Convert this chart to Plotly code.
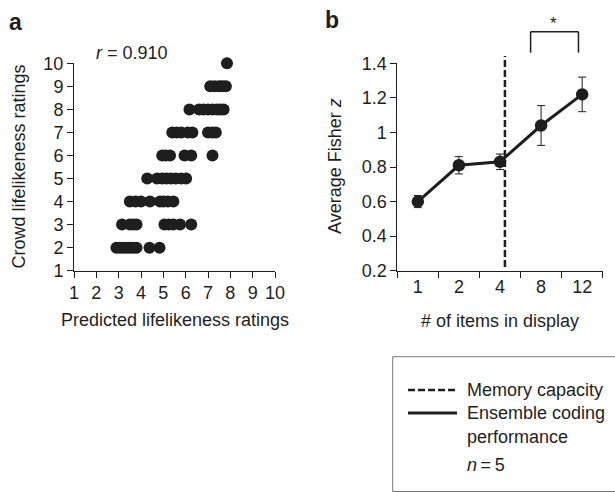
import plotly.graph_objects as go

# ---------------- data ----------------
# Panel a: predicted vs crowd lifelikeness ratings (one list per crowd rating row)
crowd_levels = [2, 3, 4, 5, 6, 7, 8, 9, 10]
predicted_by_level = [
    [2.9, 3.05, 3.2, 3.35, 3.5, 3.65, 3.8, 4.38, 4.83],
    [3.15, 3.5, 3.65, 3.8, 5.05, 5.25, 5.45, 5.75, 6.25],
    [3.5, 3.75, 4.0, 4.4, 4.85, 5.0, 5.2, 5.45],
    [4.28, 4.72, 4.95, 5.15, 5.35, 5.55, 5.8, 6.02],
    [4.95, 5.1, 5.3, 5.95, 6.25, 7.2],
    [5.4, 5.6, 5.8, 6.1, 6.3, 7.0, 7.2, 7.35],
    [6.17, 6.6, 6.8, 7.0, 7.2, 7.4, 7.55, 7.7],
    [7.1, 7.3, 7.5, 7.65, 7.8],
    [7.85],
]
predicted = [x for row in predicted_by_level for x in row]
crowd = [lvl for lvl, row in zip(crowd_levels, predicted_by_level) for _ in row]
r_text = "<i>r</i> = 0.910"

# Panel b: ensemble coding performance
items = ["1", "2", "4", "8", "12"]
fisher_z = [0.60, 0.81, 0.83, 1.04, 1.22]
fisher_err = [0.035, 0.05, 0.045, 0.115, 0.10]
memory_capacity_pos = 2.12  # category index position of the capacity line
bracket_from, bracket_to = 2.745, 3.91  # category index span of the * bracket

W, H = 615, 492
INK = "#1e1e1e"
FONT = "Liberation Sans, Arial, Helvetica, sans-serif"
FS = 18

# panel geometry (pixels)
A_L, A_R = 74, 275
B_L, B_R = 397.3, 602.7
TOP, BOT = 63.3, 270.7


def px(x):
    return x / W


def py(y):
    return 1 - y / H


def cat_px(i):
    # pixel position of a category index on panel b's x axis
    return B_L + (i + 0.5) * (B_R - B_L) / len(items)


fig = go.Figure()

fig.add_trace(go.Scatter(
    x=predicted, y=crowd, mode="markers",
    marker=dict(size=12, color=INK, line=dict(width=0)),
    xaxis="x", yaxis="y", cliponaxis=False, showlegend=False,
))

fig.add_trace(go.Scatter(
    x=items, y=fisher_z, mode="lines+markers",
    line=dict(color=INK, width=3),
    marker=dict(size=12.5, color=INK),
    error_y=dict(type="data", array=fisher_err, visible=True,
                 color=INK, thickness=1, width=4),
    xaxis="x2", yaxis="y2", cliponaxis=False, showlegend=False,
))

axis_common = dict(
    showline=True, linecolor=INK, linewidth=1, showgrid=False, zeroline=False,
    ticks="outside", ticklen=6, tickwidth=1, tickcolor=INK,
    tickfont=dict(family=FONT, size=FS, color=INK), automargin=False,
)

ydom = [py(BOT), py(TOP)]

fig.update_layout(
    width=W, height=H,
    margin=dict(l=0, r=0, t=0, b=0, autoexpand=False),
    paper_bgcolor="white", plot_bgcolor="white",
    font=dict(family=FONT, size=FS, color=INK),
    xaxis=dict(domain=[px(A_L), px(A_R)], range=[1, 10], tickmode="linear",
               tick0=1, dtick=1, anchor="y", **axis_common),
    yaxis=dict(domain=ydom, range=[1, 10], tickmode="linear",
               tick0=1, dtick=1, anchor="x", **axis_common),
    xaxis2=dict(domain=[px(B_L), px(B_R)], type="category",
                range=[-0.5, 4.5], tickson="boundaries", anchor="y2",
                **axis_common),
    yaxis2=dict(domain=ydom, range=[0.2, 1.4], tickmode="linear",
                tick0=0.2, dtick=0.2, anchor="x2", **axis_common),
)

shapes = []
# memory capacity line (extends above the plot area, so drawn in paper units)
xm = cat_px(memory_capacity_pos)
shapes.append(dict(type="line", xref="paper", yref="paper",
                   x0=px(xm), x1=px(xm), y0=py(267), y1=py(56),
                   line=dict(color=INK, width=2.5, dash="7px,3px")))
# significance bracket
bl, br = cat_px(bracket_from), cat_px(bracket_to)
btop, bbot = 31.7, 52.7
for (x0, y0, x1, y1) in [(bl, bbot, bl, btop), (bl, btop, br, btop), (br, btop, br, bbot)]:
    shapes.append(dict(type="line", xref="paper", yref="paper",
                       x0=px(x0), y0=py(y0), x1=px(x1), y1=py(y1),
                       line=dict(color=INK, width=1.5)))
# legend box
shapes.append(dict(type="rect", xref="paper", yref="paper",
                   x0=px(392.7), x1=px(630), y0=py(491.5), y1=py(356.7),
                   line=dict(color="#777777", width=1), fillcolor="rgba(0,0,0,0)"))
shapes.append(dict(type="line", xref="paper", yref="paper",
                   x0=px(408), x1=px(457), y0=py(390), y1=py(390),
                   line=dict(color=INK, width=2.5, dash="7px,3px")))
shapes.append(dict(type="line", xref="paper", yref="paper",
                   x0=px(408), x1=px(457), y0=py(413), y1=py(413),
                   line=dict(color=INK, width=3)))
fig.update_layout(shapes=shapes)


def ann(text, x, y, size=FS, xanchor="center", yanchor="middle", angle=0, **kw):
    return dict(text=text, x=px(x), y=py(y), xref="paper", yref="paper",
                showarrow=False, xanchor=xanchor, yanchor=yanchor, textangle=angle,
                font=dict(family=FONT, size=size, color=INK), **kw)


annotations = [
    ann("<b>a</b>", 15.5, 22, size=23),
    ann("<b>b</b>", 331.5, 20, size=23),
    ann(r_text, 132, 53),
    ann("Crowd lifelikeness ratings", 18.5, 167, angle=-90),
    ann("Predicted lifelikeness ratings", 174.5, 320),
    ann("Average Fisher <i>z</i>", 335, 166, angle=-90),
    ann("# of items in display", 500, 321),
    ann("*", 553, 23, size=17),
    ann("Memory capacity", 465, 390, xanchor="left"),
    ann("Ensemble coding", 465, 413, xanchor="left"),
    ann("performance", 465, 437, xanchor="left"),
    ann("<i>n</i>\u2009=\u20095", 465, 465, xanchor="left"),
]
fig.update_layout(annotations=annotations)

fig.write_html("out.html", config={"displayModeBar": False},
               post_script="document.body.style.margin='0px';")
